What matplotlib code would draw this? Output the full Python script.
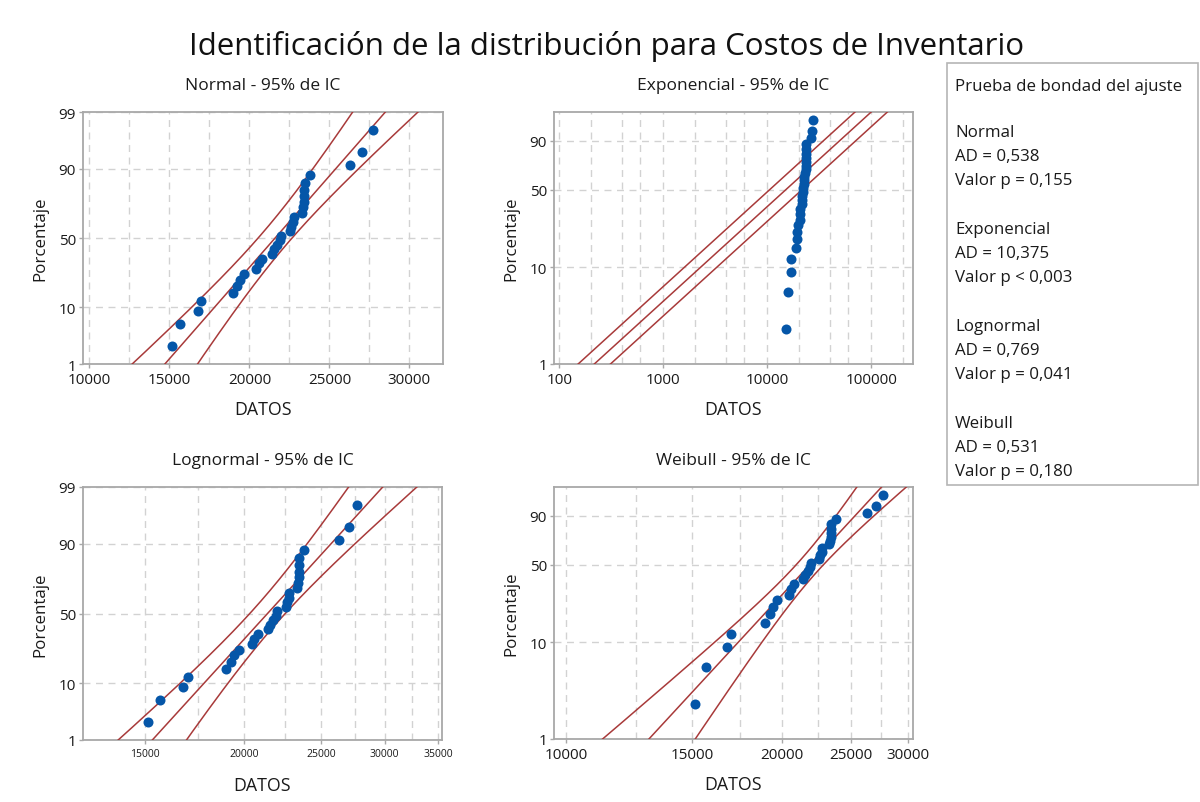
import numpy as np
import matplotlib
matplotlib.use('Agg')
import matplotlib.pyplot as plt
from matplotlib.ticker import NullFormatter
from matplotlib.patches import Rectangle
from statistics import NormalDist

plt.rcParams['font.family'] = ['Open Sans', 'DejaVu Sans']

# datos (Costos de Inventario, n = 30)
datos = [15150, 15670, 16775, 17000, 18980, 19230, 19440, 19690, 20440, 20580,
         20790, 21420, 21560, 21730, 21900, 21980, 22560, 22625, 22730, 22770,
         23310, 23330, 23400, 23440, 23440, 23450, 23770, 26300, 27060, 27700]

titulos = ['Normal - 95% de IC', 'Exponencial - 95% de IC',
           'Lognormal - 95% de IC', 'Weibull - 95% de IC']
bondad = [('Normal', '0,538', '= 0,155'), ('Exponencial', '10,375', '< 0,003'),
          ('Lognormal', '0,769', '= 0,041'), ('Weibull', '0,531', '= 0,180')]

xt_normal = [10000, 15000, 20000, 25000, 30000]
xg_normal = [12500, 17500, 22500, 27500]
xt_expo = [100, 1000, 10000, 100000]
xg_expo = [200, 400, 600, 2000, 4000, 6000, 20000, 40000, 60000, 200000]
xt_logn = [15000, 20000, 25000, 30000, 35000]
xg_logn = [17500, 22500, 27500, 32500]
xt_weib = [10000, 15000, 20000, 25000, 30000]
xg_weib = [12500, 17500, 22500, 27500]

AZUL = '#0556a8'
ROJO = '#a83a3a'
GRIS = '#a8a8a8'
TXT = '#1a1a1a'
W, H = 1200, 803

nd = NormalDist()
def p2z(p):
    p = np.clip(np.asarray(p, float) / 100, 1e-9, 1 - 1e-9)
    return np.vectorize(nd.inv_cdf, otypes=[float])(p)
def z2p(z):
    return 100 * np.vectorize(nd.cdf, otypes=[float])(np.asarray(z, float))
def p2w(p):
    p = np.clip(np.asarray(p, float) / 100, 1e-9, 1 - 1e-9)
    return np.log(-np.log(1 - p))
def w2p(w):
    return 100 * (1 - np.exp(-np.exp(np.asarray(w, float))))

x = np.sort(np.array(datos, float))
n = len(x)
pct = 100 * (np.arange(1, n + 1) - 0.3) / (n + 0.4)
pp = np.linspace(0.3, 99.8, 400)
zc = 1.959964

def fig_axes(l, r, t, b):
    return fig.add_axes([l / W, 1 - b / H, (r - l) / W, (b - t) / H])

def estilo(ax, xt, xg, yt, xlim, xfs=11):
    ax.set_xlim(*xlim)
    ax.set_ylim(1, 99)
    ax.set_xticks(xt, [str(v) for v in xt])
    ax.set_xticks(xg, minor=True)
    ax.xaxis.set_minor_formatter(NullFormatter())
    ax.set_yticks(yt, [str(v) for v in yt])
    ax.set_yticks([], minor=True)
    ax.grid(which='both', color='#d2d2d2', ls=(0, (5, 4)), lw=1)
    ax.set_axisbelow(True)
    ax.tick_params(which='major', length=3, width=1, color=GRIS,
                   labelcolor=TXT)
    ax.tick_params(axis='x', labelsize=xfs, pad=3)
    ax.tick_params(axis='y', labelsize=11, pad=2)
    ax.tick_params(which='minor', length=0)
    for s in ax.spines.values():
        s.set_color(GRIS)
        s.set_linewidth(1.3)

def puntos(ax):
    ax.scatter(x, pct, s=52, color=AZUL, zorder=5, linewidths=0)

def lineas(ax, xs):
    for xv in xs:
        ax.plot(xv, pp, color=ROJO, lw=1.1, zorder=4)

fig = plt.figure(figsize=(12, 8.03), dpi=100)

# Normal
ax1 = fig_axes(83, 443, 113, 365)
ax1.set_yscale('function', functions=(p2z, z2p))
mu, sd = x.mean(), x.std()
z = p2z(pp)
c = mu + sd * z
h = zc * sd * np.sqrt(1 / n + z ** 2 / (2 * n))
lineas(ax1, [c, c - h, c + h])
puntos(ax1)
estilo(ax1, xt_normal, xg_normal, [1, 10, 50, 90, 99], (9600, 32100))

# Exponencial
ax2 = fig_axes(554, 913, 113, 365)
ax2.set_xscale('log')
ax2.set_yscale('function', functions=(p2w, w2p))
theta = x.mean()
c = theta * (-np.log(1 - pp / 100))
f = np.exp(zc / np.sqrt(n))
lineas(ax2, [c, c / f, c * f])
puntos(ax2)
estilo(ax2, xt_expo, xg_expo, [1, 10, 50, 90], (89, 251000))

# Lognormal
ax3 = fig_axes(83, 442, 488, 741)
ax3.set_xscale('log')
ax3.set_yscale('function', functions=(p2z, z2p))
lx = np.log(x)
mu, sd = lx.mean(), lx.std()
c = mu + sd * z
h = zc * sd * np.sqrt(1 / n + z ** 2 / (2 * n))
lineas(ax3, [np.exp(c), np.exp(c - h), np.exp(c + h)])
puntos(ax3)
estilo(ax3, xt_logn, xg_logn, [1, 10, 50, 90, 99], (12560, 35400), xfs=7.5)

# Weibull (MLE)
ax4 = fig_axes(554, 913, 488, 740)
ax4.set_xscale('log')
ax4.set_yscale('function', functions=(p2w, w2p))
xs_ = x / x.max()
ls_ = np.log(xs_)
def g(k):
    xk = xs_ ** k
    return (xk * ls_).sum() / xk.sum() - 1 / k - ls_.mean()
lo, hi = 0.1, 200.0
for _ in range(200):
    mid = 0.5 * (lo + hi)
    if g(mid) > 0:
        hi = mid
    else:
        lo = mid
k = 0.5 * (lo + hi)
escala = x.max() * (np.mean(xs_ ** k)) ** (1 / k)
u, b = np.log(escala), 1 / k
w = p2w(pp)
c = u + b * w
h = zc * b / np.sqrt(n) * np.sqrt(1.1087 + 2 * 0.2570 * w + 0.6079 * w ** 2)
lineas(ax4, [np.exp(c), np.exp(c - h), np.exp(c + h)])
puntos(ax4)
estilo(ax4, xt_weib, xg_weib, [1, 10, 50, 90], (9620, 30490))

# el "1" del eje y apenas mas arriba para no pisar la primera etiqueta del eje x
for ax in (ax1, ax2, ax3, ax4):
    ax.get_yticklabels()[0].set_va('center_baseline')

# textos
fig.text(607 / W, 1 - 47 / H, 'Identificación de la distribución para Costos de Inventario',
         ha='center', va='center', fontsize=22.5, fontweight='medium', color='#111111')
for ax, t, ty in [(ax1, titulos[0], 86), (ax2, titulos[1], 86),
                  (ax3, titulos[2], 461), (ax4, titulos[3], 461)]:
    bb = ax.get_position()
    cx = (bb.x0 + bb.x1) / 2
    fig.text(cx, 1 - ty / H, t, ha='center', va='center', fontsize=12.5, color=TXT)
    fig.text(cx, bb.y0 - 45 / H, 'DATOS', ha='center', va='center', fontsize=12.8,
             color=TXT)
    fig.text(40 / W if bb.x0 < 0.3 else 511 / W, (bb.y0 + bb.y1) / 2, 'Porcentaje',
             rotation=90, ha='center', va='center', fontsize=12.2, color=TXT)

# cuadro de bondad del ajuste
fig.patches.append(Rectangle((947 / W, 1 - 486 / H), 251 / W, 422 / H,
                             transform=fig.transFigure, fill=False,
                             edgecolor='#b5b5b5', lw=1.2))
tx = 955 / W
fig.text(tx, 1 - 87 / H, 'Prueba de bondad del ajuste', va='center', fontsize=12.2,
         color=TXT)
y0 = 133
for nom, ad, pv in bondad:
    fig.text(tx, 1 - y0 / H, nom, va='center', fontsize=12.2, color=TXT)
    fig.text(tx, 1 - (y0 + 24) / H, 'AD = ' + ad, va='center', fontsize=12.2,
             color=TXT)
    fig.text(tx, 1 - (y0 + 48) / H, 'Valor p ' + pv, va='center', fontsize=12.2,
             color=TXT)
    y0 += 97

fig.savefig('out.png', dpi=100)
